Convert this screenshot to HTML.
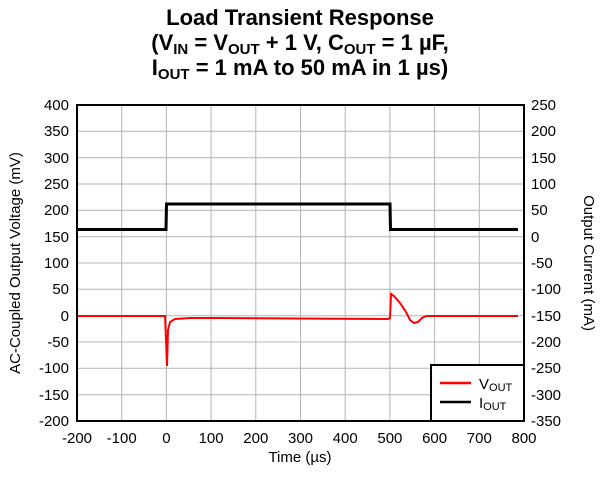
<!DOCTYPE html>
<html><head><style>
body{margin:0;background:#fff;font-family:"Liberation Sans",sans-serif}
</style></head><body>
<svg width="600" height="472" xmlns="http://www.w3.org/2000/svg" font-family="Liberation Sans, sans-serif">
<g font-weight="bold" font-size="22" text-anchor="middle" fill="#000">
<text x="300" y="25">Load Transient Response</text>
<text x="300" y="50">(V<tspan font-size="15" dy="4">IN</tspan><tspan dy="-4"> = V</tspan><tspan font-size="15" dy="4">OUT</tspan><tspan dy="-4"> + 1 V, C</tspan><tspan font-size="15" dy="4">OUT</tspan><tspan dy="-4"> = 1 µF,</tspan></text>
<text x="300" y="75">I<tspan font-size="15" dy="4">OUT</tspan><tspan dy="-4"> = 1 mA to 50 mA in 1 µs)</tspan></text>
</g>
<g stroke="#b4b4b4" stroke-width="1">
<line x1="121.7" y1="105" x2="121.7" y2="421"/><line x1="166.4" y1="105" x2="166.4" y2="421"/><line x1="211.1" y1="105" x2="211.1" y2="421"/><line x1="255.8" y1="105" x2="255.8" y2="421"/><line x1="300.5" y1="105" x2="300.5" y2="421"/><line x1="345.2" y1="105" x2="345.2" y2="421"/><line x1="389.9" y1="105" x2="389.9" y2="421"/><line x1="434.6" y1="105" x2="434.6" y2="421"/><line x1="479.3" y1="105" x2="479.3" y2="421"/>
<line x1="77" y1="131.3" x2="524" y2="131.3"/><line x1="77" y1="157.7" x2="524" y2="157.7"/><line x1="77" y1="184" x2="524" y2="184"/><line x1="77" y1="210.3" x2="524" y2="210.3"/><line x1="77" y1="236.7" x2="524" y2="236.7"/><line x1="77" y1="263" x2="524" y2="263"/><line x1="77" y1="289.3" x2="524" y2="289.3"/><line x1="77" y1="315.7" x2="524" y2="315.7"/><line x1="77" y1="342" x2="524" y2="342"/><line x1="77" y1="368.3" x2="524" y2="368.3"/><line x1="77" y1="394.7" x2="524" y2="394.7"/>
</g>
<polyline fill="none" stroke="#000" stroke-width="3" points="77,229.5 166,229.5 166.5,204 390,204 390.5,229.5 518,229.5"/>
<polyline fill="none" stroke="#f00" stroke-width="2" points="77,316 165,316 166,340 167,366 168,330 170,322 175,319 190,318 220,318 300,318.5 388,319 390,318 391,294 394,296 400,303 406,312 410,320 414,323 418,322 422,318 426,316 432,316 518,316"/>
<rect x="77" y="105" width="447" height="316" fill="none" stroke="#000" stroke-width="2"/>
<rect x="431" y="365" width="93" height="56" fill="#fff" stroke="#000" stroke-width="2"/>
<line x1="440" y1="383" x2="471" y2="383" stroke="#f00" stroke-width="2.5"/>
<line x1="440" y1="402" x2="471" y2="402" stroke="#000" stroke-width="2.5"/>
<g font-size="15" fill="#000">
<text x="479" y="389">V<tspan font-size="11" dy="2">OUT</tspan></text>
<text x="479" y="408">I<tspan font-size="11" dy="2">OUT</tspan></text>
</g>
<g font-size="15" fill="#000" text-anchor="end">
<text x="69" y="110">400</text><text x="69" y="136">350</text><text x="69" y="163">300</text><text x="69" y="189">250</text><text x="69" y="215">200</text><text x="69" y="242">150</text><text x="69" y="268">100</text><text x="69" y="294">50</text><text x="69" y="321">0</text><text x="69" y="347">-50</text><text x="69" y="373">-100</text><text x="69" y="400">-150</text><text x="69" y="426">-200</text>
</g>
<g font-size="15" fill="#000" text-anchor="start">
<text x="531" y="110">250</text><text x="531" y="136">200</text><text x="531" y="163">150</text><text x="531" y="189">100</text><text x="531" y="215">50</text><text x="531" y="242">0</text><text x="531" y="268">-50</text><text x="531" y="294">-100</text><text x="531" y="321">-150</text><text x="531" y="347">-200</text><text x="531" y="373">-250</text><text x="531" y="400">-300</text><text x="531" y="426">-350</text>
</g>
<g font-size="15" fill="#000" text-anchor="middle">
<text x="77" y="443">-200</text><text x="121.7" y="443">-100</text><text x="166.4" y="443">0</text><text x="211.1" y="443">100</text><text x="255.8" y="443">200</text><text x="300.5" y="443">300</text><text x="345.2" y="443">400</text><text x="389.9" y="443">500</text><text x="434.6" y="443">600</text><text x="479.3" y="443">700</text><text x="524" y="443">800</text>
<text x="300" y="462">Time (µs)</text>
<text transform="translate(20,263) rotate(-90)">AC-Coupled Output Voltage (mV)</text>
<text transform="translate(584,263) rotate(90)">Output Current (mA)</text>
</g>
</svg>
</body></html>
